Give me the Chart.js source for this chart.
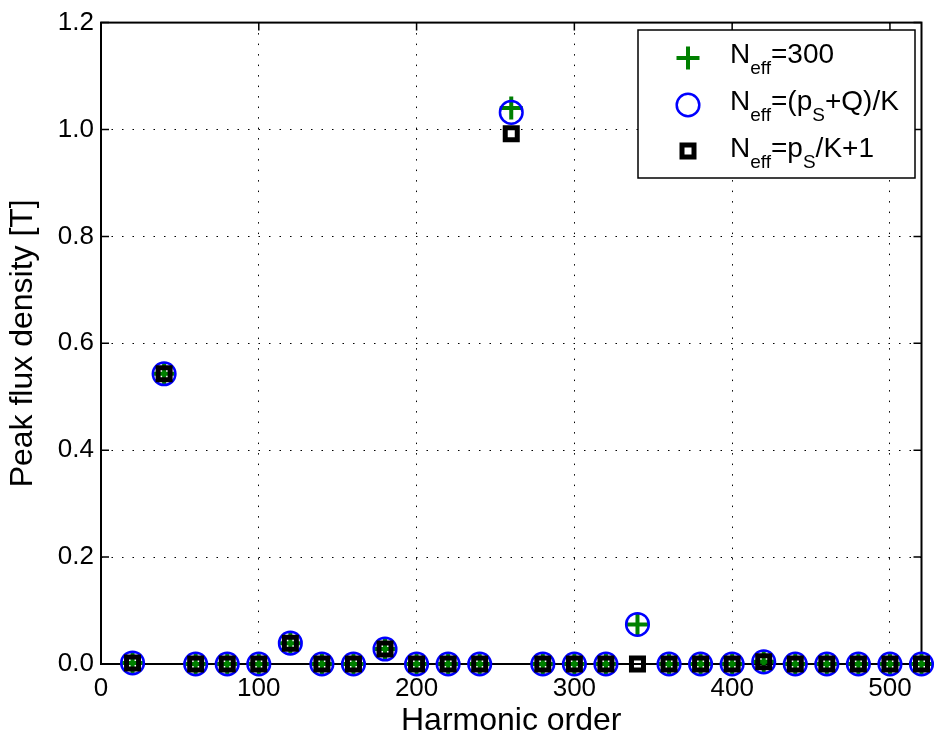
<!DOCTYPE html>
<html>
<head>
<meta charset="utf-8">
<script src="https://cdn.jsdelivr.net/npm/chart.js@4/dist/chart.umd.min.js"></script>
<style>
  html, body { margin: 0; padding: 0; background: #fff; }
  #wrap { width: 937px; height: 740px; }
</style>
</head>
<body>
<div id="wrap"><canvas id="flux" width="937" height="740"></canvas></div>
<script>
// harmonic orders and peak flux density [T] for the three N_eff estimates
const harmonicOrder = [20, 40, 60, 80, 100, 120, 140, 160, 180, 200, 220, 240, 260,
	280, 300, 320, 340, 360, 380, 400, 420, 440, 460, 480, 500, 520]
const fluxNeff300 = [0.002, 0.543, 0, 0, 0, 0.039, 0, 0, 0.028, 0, 0, 0, 1.040,
	0, 0, 0, 0.074, 0, 0, 0, 0.004, 0, 0, 0, 0, 0]
const fluxNeffPsQ = [0.002, 0.543, 0, 0, 0, 0.039, 0, 0, 0.028, 0, 0, 0, 1.032,
	0, 0, 0, 0.074, 0, 0, 0, 0.004, 0, 0, 0, 0, 0]
const fluxNeffPsK = [0.002, 0.543, 0, 0, 0, 0.039, 0, 0, 0.028, 0, 0, 0, 0.992,
	0, 0, 0, 0, 0, 0, 0, 0.004, 0, 0, 0, 0, 0]

const xTicks = [0, 100, 200, 300, 400, 500]
const yTicks = [0, 0.2, 0.4, 0.6, 0.8, 1.0, 1.2]

// legend rows: [text, is subscript]
const legendRows = [
	[['N', false], ['eff', true], ['=300', false]],
	[['N', false], ['eff', true], ['=(p', false], ['S', true], ['+Q)/K', false]],
	[['N', false], ['eff', true], ['=p', false], ['S', true], ['/K+1', false]]
]

const FONT = '"Liberation Sans", Arial, Helvetica, sans-serif'
const GREEN = '#008000'
const BLUE = '#0000ff'

function points(ys) {
	return harmonicOrder.map((x, i) => ({x: x, y: ys[i]}))
}

function drawMarker(ctx, kind, x, y) {
	ctx.save()
	if (kind === 'plus') {
		ctx.strokeStyle = GREEN
		ctx.lineWidth = 4
		ctx.beginPath()
		ctx.moveTo(x - 11.5, y); ctx.lineTo(x + 11.5, y)
		ctx.moveTo(x, y - 11.5); ctx.lineTo(x, y + 11.5)
		ctx.stroke()
	} else if (kind === 'circle') {
		ctx.strokeStyle = BLUE
		ctx.lineWidth = 2.5
		ctx.beginPath()
		ctx.arc(x, y, 11.3, 0, Math.PI * 2)
		ctx.stroke()
	} else {
		ctx.strokeStyle = '#000'
		ctx.lineWidth = 5
		ctx.strokeRect(x - 6, y - 6, 12, 12)
	}
	ctx.restore()
}

// box, inward tick marks and legend in the MATLAB style
const framePlugin = {
	id: 'frame',
	beforeDatasetsDraw(chart) {
		const {ctx, chartArea: a, scales} = chart
		ctx.save()
		ctx.strokeStyle = '#000'
		ctx.lineWidth = 2
		ctx.strokeRect(a.left, a.top, a.right - a.left, a.bottom - a.top)
		ctx.lineWidth = 1.5
		ctx.beginPath()
		xTicks.forEach(v => {
			const px = scales.x.getPixelForValue(v)
			ctx.moveTo(px, a.bottom); ctx.lineTo(px, a.bottom - 8)
			ctx.moveTo(px, a.top); ctx.lineTo(px, a.top + 8)
		})
		yTicks.forEach(v => {
			const py = scales.y.getPixelForValue(v)
			ctx.moveTo(a.left, py); ctx.lineTo(a.left + 8, py)
			ctx.moveTo(a.right, py); ctx.lineTo(a.right - 8, py)
		})
		ctx.stroke()
		ctx.restore()
	},
	afterDraw(chart) {
		const ctx = chart.ctx
		const box = {left: 638, top: 30, right: 915, bottom: 178}
		ctx.save()
		ctx.fillStyle = '#fff'
		ctx.fillRect(box.left, box.top, box.right - box.left, box.bottom - box.top)
		ctx.strokeStyle = '#000'
		ctx.lineWidth = 1.5
		ctx.strokeRect(box.left, box.top, box.right - box.left, box.bottom - box.top)
		const kinds = ['plus', 'circle', 'square']
		const rowY = [58, 105, 151]
		const baseY = [63, 110, 157]
		ctx.fillStyle = '#000'
		ctx.textBaseline = 'alphabetic'
		legendRows.forEach((row, i) => {
			drawMarker(ctx, kinds[i], 688, rowY[i])
			let x = 730
			row.forEach(([txt, sub]) => {
				ctx.font = (sub ? '19px ' : '28px ') + FONT
				ctx.fillText(txt, x, sub ? baseY[i] + 11 : baseY[i])
				x += ctx.measureText(txt).width
			})
		})
		ctx.restore()
	}
}

const gridStyle = {color: '#000', lineWidth: 1, drawTicks: false}
const borderStyle = {display: false, dash: [1.5, 9]}

const chart = new Chart(document.getElementById('flux'), {
	type: 'scatter',
	data: {
		datasets: [{
			label: 'N_eff=p_S/K+1',
			data: points(fluxNeffPsK),
			pointStyle: 'rect',
			pointRadius: 8.5,
			pointBorderWidth: 5,
			borderColor: '#000',
			backgroundColor: 'transparent',
			order: 1
		}, {
			label: 'N_eff=(p_S+Q)/K',
			data: points(fluxNeffPsQ),
			pointStyle: 'circle',
			pointRadius: 11.3,
			pointBorderWidth: 2.5,
			borderColor: BLUE,
			backgroundColor: 'transparent',
			order: 2
		}, {
			label: 'N_eff=300',
			data: points(fluxNeff300),
			pointStyle: 'cross',
			pointRadius: 11.5,
			pointBorderWidth: 4,
			borderColor: GREEN,
			backgroundColor: GREEN,
			order: 3
		}]
	},
	options: {
		responsive: false,
		animation: false,
		clip: false,
		layout: {padding: {top: 18, right: 15, left: 0, bottom: 0}},
		plugins: {
			legend: {display: false},
			tooltip: {enabled: false}
		},
		scales: {
			x: {
				type: 'linear',
				min: 0,
				max: 520,
				afterFit: s => { s.height = 76 },
				afterBuildTicks: s => { s.ticks = xTicks.map(v => ({value: v})) },
				border: borderStyle,
				grid: gridStyle,
				ticks: {
					padding: 9,
					color: '#000',
					font: {family: FONT, size: 26},
					callback: v => String(v)
				},
				title: {
					display: true,
					text: 'Harmonic order',
					color: '#000',
					font: {family: FONT, size: 32},
					padding: {top: 0, bottom: 0}
				}
			},
			y: {
				type: 'linear',
				min: 0,
				max: 1.2,
				afterFit: s => { s.width = 101 },
				afterBuildTicks: s => { s.ticks = yTicks.map(v => ({value: v})) },
				border: borderStyle,
				grid: gridStyle,
				ticks: {
					padding: 7,
					color: '#000',
					font: {family: FONT, size: 26},
					callback: v => v.toFixed(1)
				},
				title: {
					display: true,
					text: 'Peak flux density [T]',
					color: '#000',
					font: {family: FONT, size: 32},
					padding: {top: 4, bottom: 0}
				}
			}
		}
	},
	plugins: [framePlugin]
})
</script>
</body>
</html>
